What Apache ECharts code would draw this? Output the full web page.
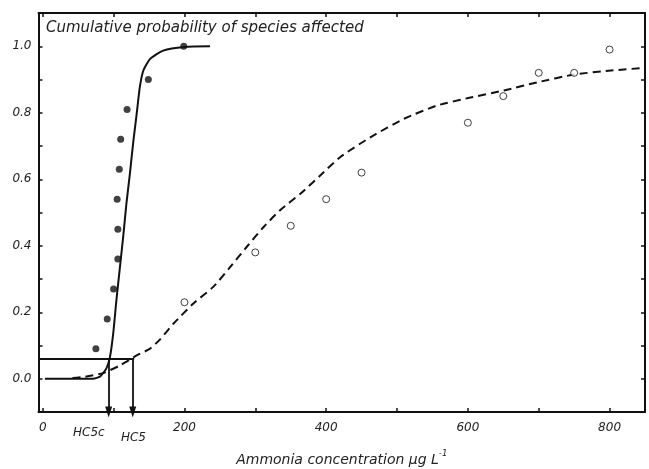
<!DOCTYPE html>
<html><head><meta charset="utf-8">
<script src="https://cdn.jsdelivr.net/npm/echarts@6/dist/echarts.min.js"></script>
<style>html,body{margin:0;padding:0;background:#fff}#c{width:649px;height:469px}</style>
</head><body><div id="c"></div>
<script>
// Chronic data (filled points) and fitted curve (solid)
const chronicPoints = [[75,0.09],[91,0.18],[100,0.27],[106,0.36],[106,0.45],[105,0.54],[108,0.63],[110,0.72],[119,0.81],[149,0.90],[199,1.0]];
const chronicCurve = [[3,0],[40,0],[71,0],[81,0.007],[90,0.032],[95,0.067],[99.5,0.137],[104,0.237],[109,0.337],[114,0.437],[118,0.525],[123,0.617],[128,0.717],[132.6,0.797],[137,0.877],[142,0.927],[151.5,0.962],[170,0.987],[200,0.998],[236,1.0]];
// Acute data (open points) and fitted curve (dashed)
const acutePoints = [[200,0.23],[300,0.38],[350,0.46],[400,0.54],[450,0.62],[600,0.77],[650,0.85],[700,0.92],[750,0.92],[800,0.99]];
const acuteCurve = [[42,0.002],[60,0.006],[85,0.017],[109,0.04],[132.6,0.07],[151,0.09],[165,0.117],[185,0.167],[213,0.227],[241,0.277],[265,0.337],[288,0.397],[312,0.457],[335,0.507],[364,0.557],[392,0.612],[420,0.667],[463,0.727],[510,0.782],[557,0.822],[602,0.845],[651,0.867],[699,0.892],[750,0.915],[802,0.927],[850,0.935]];
// Hazard concentrations
const hcLevel = 0.06;
const hc5c = 93;
const hc5 = 127;
const hcLabelPos = {65: 'HC5c', 128: 'HC5'};
const xLabelValues = [0, 65, 128, 200, 400, 600, 800];
const xTickValues = [0,100,200,300,400,500,600,700,800];
const yLabelValues = [0,0.2,0.4,0.6,0.8,1.0];
const yTickValues = [-0.1,0,0.1,0.2,0.3,0.4,0.5,0.6,0.7,0.8,0.9,1.0,1.1];
const xMin = -6, xMax = 850, yMin = -0.1, yMax = 1.1;

const FONT = '"DejaVu Sans", Verdana, sans-serif';
const TXT = '#222';
const axisLine = {show:true, onZero:false, lineStyle:{color:'#111', width:2}};
const tick = (vals) => ({show:true, inside:true, length:4, customValues: vals, lineStyle:{color:'#111', width:1.5}});

const chart = echarts.init(document.getElementById('c'));
chart.setOption({
  animation:false,
  backgroundColor:'#fff',
  grid:{left:38.5, right:4, top:13, bottom:57, containLabel:false, outerBoundsMode:'none'},
  title:{text:'Cumulative probability of species affected', left:41, top:16,
    textStyle:{fontFamily:FONT, fontStyle:'italic', fontWeight:'normal', fontSize:15, color:TXT}},
  xAxis:[{
    type:'value', min:xMin, max:xMax, position:'bottom',
    axisLine, axisTick:tick(xTickValues), splitLine:{show:false},
    axisLabel:{customValues:xLabelValues, margin:10,
      formatter:(v)=> hcLabelPos[v] ? (v===65 ? '{h|HC5c}' : '{h2|HC5}') : String(v),
      fontFamily:FONT, fontStyle:'italic', fontSize:12, color:TXT,
      rich:{h:{fontFamily:FONT, fontStyle:'italic', fontSize:12, color:TXT, padding:[5,0,0,0]},
            h2:{fontFamily:FONT, fontStyle:'italic', fontSize:12, color:TXT, padding:[10,0,0,0]}}},
    name:'{a|Ammonia concentration }{a|μg L}{s|-1}', nameLocation:'middle', nameGap:32,
    nameTextStyle:{rich:{
      a:{fontFamily:FONT, fontStyle:'italic', fontSize:14, color:TXT, verticalAlign:'bottom', lineHeight:18},
      s:{fontFamily:FONT, fontStyle:'italic', fontSize:8.5, color:TXT, verticalAlign:'top', lineHeight:18}}}
  },{
    type:'value', min:xMin, max:xMax, position:'top',
    axisLine, axisTick:tick(xTickValues), axisLabel:{show:false}, splitLine:{show:false}
  }],
  yAxis:[{
    type:'value', min:yMin, max:yMax, position:'left',
    axisLine, axisTick:tick(yTickValues), splitLine:{show:false},
    axisLabel:{customValues:yLabelValues, margin:7, formatter:(v)=>v.toFixed(1),
      fontFamily:FONT, fontStyle:'italic', fontSize:12, color:TXT}
  },{
    type:'value', min:yMin, max:yMax, position:'right',
    axisLine, axisTick:tick(yTickValues), axisLabel:{show:false}, splitLine:{show:false}
  }],
  series:[
    {type:'line', data:acuteCurve, showSymbol:false, smooth:0.2, lineStyle:{color:'#111', width:2, type:[8,5]}, z:2},
    {type:'line', data:chronicCurve, showSymbol:false, smooth:0.2, lineStyle:{color:'#111', width:2}, z:3,
      markLine:{silent:true, symbol:['none','none'], lineStyle:{color:'#111', width:1.8, type:'solid'}, label:{show:false},
        data:[
          [{coord:[xMin,hcLevel]},{coord:[hc5+2,hcLevel]}],
          [{coord:[hc5c,hcLevel], symbol:'none'},{coord:[hc5c,yMin], symbol:'triangle', symbolSize:[7,11], symbolRotate:180}],
          [{coord:[hc5,hcLevel], symbol:'none'},{coord:[hc5,yMin], symbol:'triangle', symbolSize:[7,11], symbolRotate:180}]
        ]}},
    {type:'scatter', data:chronicPoints, symbol:'circle', symbolSize:7, itemStyle:{color:'#111'}, z:4},
    {type:'scatter', data:acutePoints, symbol:'circle', symbolSize:7, itemStyle:{color:'#fff', borderColor:'#111', borderWidth:1}, z:4}
  ]
});
</script></body></html>
